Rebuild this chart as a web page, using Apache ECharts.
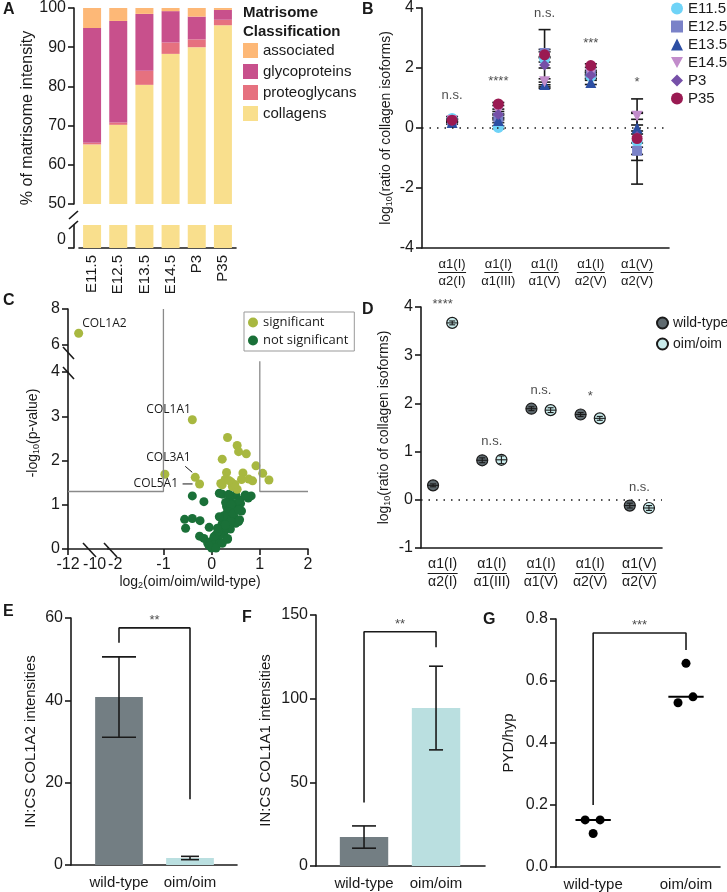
<!DOCTYPE html>
<html><head><meta charset="utf-8">
<script src="https://cdn.jsdelivr.net/npm/echarts@6/dist/echarts.min.js"></script>
<style>html,body{margin:0;padding:0;background:#fff}#c{width:727px;height:892px}</style>
</head><body><div id="c"></div><script>
// ================= DATA =================
// Panel A
const stageCats = ['E11.5','E12.5','E13.5','E14.5','P3','P35'];
const collagens     = [65.2, 70.2, 80.4, 88.3, 90.0, 95.6];
const proteoglycans = [0.4, 0.6, 3.6, 2.9, 2.0, 1.4];
const glycoproteins = [29.3, 25.9, 14.5, 8.0, 5.8, 2.5];
const associated    = [5.1, 3.3, 1.5, 0.8, 2.2, 0.5];
const A_yTicks = [50, 100, 10];

// Panel B
const ratioNum = ['α1(I)','α1(I)','α1(I)','α1(I)','α1(V)'];
const ratioDen = ['α2(I)','α1(III)','α1(V)','α2(V)','α2(V)'];
const B_E11_5 = [0.32, 0.02, 2.30, 1.72, -0.45];
const B_E11_5_sd = [0.06, 0.05, 0.98, 0.08, 1.42];
const B_E12_5 = [0.25, 0.35, 2.50, 1.85, -0.76];
const B_E12_5_sd = [0.05, 0.08, 0.12, 0.07, 0.12];
const B_E13_5 = [0.18, 0.25, 1.45, 1.52, 0.00];
const B_E13_5_sd = [0.05, 0.07, 0.08, 0.07, 0.10];
const B_E14_5 = [0.25, 0.55, 1.54, 1.80, 0.39];
const B_E14_5_sd = [0.04, 0.08, 0.10, 0.06, 0.10];
const B_P3 = [0.24, 0.45, 2.10, 1.76, -0.28];
const B_P3_sd = [0.05, 0.10, 0.10, 0.10, 0.80];
const B_P35 = [0.26, 0.80, 2.44, 2.08, -0.35];
const B_P35_sd = [0.05, 0.05, 0.10, 0.06, 0.15];
const B_sig = ['n.s.','****','n.s.','***','*'];

// Panel C (volcano)
const C_sig = [[-0.40,2.92],[-0.97,1.69],[-0.34,1.62],[-0.25,1.47],[0.33,2.52],[0.53,2.34],[0.56,2.20],[0.72,2.15],
  [0.22,2.03],[0.92,1.88],[0.31,1.73],[0.65,1.72],[1.06,1.71],[1.19,1.56],[0.28,1.57],[0.41,1.51],[0.22,1.45],
  [0.43,1.41],[0.62,1.57],[0.77,1.58],[0.85,1.54],[0.53,1.35],[0.19,1.48],[0.48,1.46],[0.36,1.55]];
const C_sigNames = ['COL1A1','','COL3A1','COL5A1'];
const C_col1a2 = [-11.2, 6.65];
const C_ns = [[-0.40,1.20],[-0.16,1.07],[-0.56,0.67],[-0.40,0.69],[-0.54,0.47],[-0.24,0.64],[-0.25,0.29],[-0.16,0.24],
  [-0.05,0.49],[-0.08,0.13],[0.00,0.02],[0.05,0.13],[0.12,0.22],[0.16,0.35],[0.19,0.47],[0.22,0.58],[0.33,0.22],
  [0.28,0.69],[0.36,0.81],[0.43,0.92],[0.31,0.96],[0.22,1.24],[0.36,1.12],[0.46,1.03],[0.50,1.22],[0.60,1.03],
  [0.62,0.86],[0.46,0.73],[0.56,0.62],[0.69,1.20],[0.76,1.15],[0.82,1.20],[0.50,0.58],[0.39,0.45],[0.26,0.39],
  [0.09,0.13],[0.31,0.66],[0.39,0.62],[0.28,0.54],[0.19,0.32],[0.09,0.32],[-0.01,0.17],[-0.05,0.07],[0.09,0.02],
  [0.05,0.28],[0.22,0.13],[0.53,0.88],[0.36,1.24],[0.29,1.05],[0.40,1.00],[0.33,0.85],[0.14,0.40],[0.25,0.75],
  [0.45,0.80],[0.58,1.10],[0.16,1.26],[0.70,1.22],[0.12,0.47],[0.33,0.24],[0.16,0.73],[0.56,0.88],[0.58,0.66]];
const C_fcCut = [-1, 1];
const C_pCut = 1.3;
const C_rightCutTop = 5.1;

// Panel D
const D_wt = [0.30, 0.82, 1.89, 1.77, -0.12];
const D_wt_sd = [0.03, 0.05, 0.04, 0.04, 0.05];
const D_oim = [3.67, 0.83, 1.86, 1.69, -0.17];
const D_oim_sd = [0.04, 0.08, 0.05, 0.04, 0.05];
const D_sig = ['****','n.s.','n.s.','*','n.s.'];

// Panels E, F, G
const groups = ['wild-type','oim/oim'];
const E_mean = [40.8, 1.7];
const E_sd = [9.75, 0.4];
const E_bracket = [54, 57.6, 16];
const F_mean = [17.3, 94.4];
const F_sd = [6.65, 25.0];
const F_bracket = [38, 140, 130.7];
const G_wt = [0.152, 0.152, 0.108];
const G_oim = [0.657, 0.530, 0.549];
const G_jitter = [-0.086, 0.075, 0];
const G_oimJitter = [0, -0.086, 0.075];
const G_bracket = [0.2, 0.755, 0.70];
const sigEF = ['**','**','***'];

// ================= STYLE =================
const FONT = '"Liberation Sans", Arial, Helvetica, sans-serif';
const INK = '#1a1a1a';
const matColors = {associated:'#FDB877', glycoproteins:'#C8508C', proteoglycans:'#E6717F', collagens:'#F9DF8D'};
const stageStyle = [
  {name:'E11.5', v:B_E11_5, sd:B_E11_5_sd, symbol:'circle', size:11, color:'#6FD3F7'},
  {name:'E12.5', v:B_E12_5, sd:B_E12_5_sd, symbol:'rect', size:10, color:'#7A82C8'},
  {name:'E13.5', v:B_E13_5, sd:B_E13_5_sd, symbol:'triangle', size:11, color:'#2C4EA3'},
  {name:'E14.5', v:B_E14_5, sd:B_E14_5_sd, symbol:'path://M0,0 L10,0 L5,9 Z', size:11, color:'#C28CCB'},
  {name:'P3', v:B_P3, sd:B_P3_sd, symbol:'diamond', size:11, color:'#7650A8'},
  {name:'P35', v:B_P35, sd:B_P35_sd, symbol:'circle', size:11, color:'#9A1A52'}
];
const wtColor = '#737E83', oimColor = '#BADFE0';

const axLine = {show:true, onZero:false, lineStyle:{color:INK, width:1.6}};
const axTick = {show:true, length:6, lineStyle:{color:INK, width:1.6}};
const axLabel = (o) => Object.assign({color:INK, fontSize:16, fontFamily:FONT, margin:8}, o||{});
const noSplit = {show:false};

const cvs = document.createElement('canvas').getContext('2d');
function textW(t, size){ cvs.font = size + 'px ' + FONT; return cvs.measureText(t).width; }
function fracRich(size){
  const base = {fontSize:size, fontFamily:FONT, color:INK, lineHeight:size+1};
  const rich = {n:base, d:base};
  ratioNum.forEach((t,i)=>{ rich['u'+i] = {width:Math.ceil(textW(t,size)), height:1, lineHeight:3, fontSize:1, backgroundColor:INK}; });
  return rich;
}
const fracFmt = (v) => { const i = Math.round(v); return '{n|' + ratioNum[i] + '}\n{u' + i + '| }\n{d|' + ratioDen[i] + '}'; };

function errRender(capHalf, lw, meanHalf){
  return function(params, api){
    const x = api.value(0), lo = api.value(1), hi = api.value(2), m = api.value(3);
    const a = api.coord([x, lo]), b = api.coord([x, hi]);
    const st = {stroke:INK, lineWidth:lw};
    const ch = [
      {type:'line', shape:{x1:a[0], y1:a[1], x2:b[0], y2:b[1]}, style:st},
      {type:'line', shape:{x1:a[0]-capHalf, y1:a[1], x2:a[0]+capHalf, y2:a[1]}, style:st},
      {type:'line', shape:{x1:b[0]-capHalf, y1:b[1], x2:b[0]+capHalf, y2:b[1]}, style:st}
    ];
    if (meanHalf) { const c = api.coord([x, m]); ch.push({type:'line', shape:{x1:c[0]-meanHalf, y1:c[1], x2:c[0]+meanHalf, y2:c[1]}, style:st}); }
    return {type:'group', children:ch};
  };
}
function barRender(halfW, colors){
  return function(params, api){
    const x = api.value(0), v = api.value(1);
    const a = api.coord([x - halfW, 0]), b = api.coord([x + halfW, v]);
    return {type:'rect', shape:{x:a[0], y:b[1], width:b[0]-a[0], height:a[1]-b[1]}, style:{fill:colors[params.dataIndex]}};
  };
}
const median = (arr) => { const s = arr.slice().sort((p,q)=>p-q); return s[Math.floor(s.length/2)]; };

// ================= OPTION =================
const grids = [
  {left:79, top:4, width:157, height:200},    // 0 A upper
  {left:79, top:225, width:157, height:23},   // 1 A lower
  {left:422, top:4, width:247, height:244},   // 2 B
  {left:108, top:372, width:200, height:177}, // 3 C main
  {left:68, top:372, width:40, height:177},   // 4 C lower-left
  {left:68, top:309, width:40, height:63},    // 5 C upper-left
  {left:108, top:309, width:200, height:63},  // 6 C upper-right
  {left:421, top:307, width:241, height:241}, // 7 D
  {left:71, top:618, width:166, height:247},  // 8 E
  {left:316, top:615, width:169, height:251}, // 9 F
  {left:556, top:619, width:164, height:248}  // 10 G
];

const subRich = (size) => ({s:{fontSize:Math.round(size*0.65), fontFamily:FONT, color:INK, verticalAlign:'bottom', lineHeight:size+2}});

const xAxes = [
  {gridIndex:0, type:'category', data:stageCats, show:false},
  {gridIndex:1, type:'category', data:stageCats, axisLine:axLine, axisTick:{show:false},
    axisLabel:axLabel({rotate:90, fontSize:15, margin:7})},
  {gridIndex:2, type:'value', min:-0.65, max:4.69, splitLine:noSplit, axisLine:axLine, axisTick:{show:false},
    axisLabel:axLabel({customValues:[0,1,2,3,4], formatter:fracFmt, rich:fracRich(13), margin:9, lineHeight:14})},
  {gridIndex:3, type:'value', min:-2.15, max:2, splitLine:noSplit, axisLine:axLine,
    axisTick:Object.assign({customValues:[-1,0,1,2]}, axTick), axisLabel:axLabel({customValues:[-2,-1,0,1,2]})},
  {gridIndex:4, type:'value', min:-12, max:-9.0, splitLine:noSplit, axisLine:axLine,
    axisTick:Object.assign({customValues:[-12]}, axTick), axisLabel:axLabel({customValues:[-12,-10], showMaxLabel:true})},
  {gridIndex:5, type:'value', min:-12, max:-9.0, show:false},
  {gridIndex:6, type:'value', min:-2.15, max:2, show:false},
  {gridIndex:7, type:'value', min:-0.44, max:4.46, splitLine:noSplit, axisLine:axLine, axisTick:{show:false},
    axisLabel:axLabel({customValues:[0,1,2,3,4], formatter:fracFmt, rich:fracRich(14), margin:9})},
  {gridIndex:8, type:'value', min:-0.676, max:1.662, splitLine:noSplit, axisLine:axLine, axisTick:{show:false},
    axisLabel:axLabel({customValues:[0,1], formatter:(v)=>groups[Math.round(v)], fontSize:15, margin:10})},
  {gridIndex:9, type:'value', min:-0.667, max:1.68, splitLine:noSplit, axisLine:axLine, axisTick:{show:false},
    axisLabel:axLabel({customValues:[0,1], formatter:(v)=>groups[Math.round(v)], fontSize:15, margin:10})},
  {gridIndex:10, type:'value', min:-0.40, max:1.366, splitLine:noSplit, axisLine:axLine, axisTick:{show:false},
    axisLabel:axLabel({customValues:[0,1], formatter:(v)=>groups[Math.round(v)], fontSize:15, margin:10})}
];

const yAxes = [
  {gridIndex:0, type:'value', min:A_yTicks[0], max:A_yTicks[1], interval:A_yTicks[2], offset:5, splitLine:noSplit,
    axisLine:axLine, axisTick:axTick, axisLabel:axLabel()},
  {gridIndex:1, type:'value', min:0, max:5, offset:5, splitLine:noSplit, axisLine:axLine,
    axisTick:Object.assign({customValues:[0]}, axTick), axisLabel:axLabel({customValues:[0], verticalAlign:'bottom'})},
  {gridIndex:2, type:'value', min:-4, max:4, interval:2, splitLine:noSplit, axisLine:axLine, axisTick:axTick, axisLabel:axLabel(),
    name:'log{s|10}(ratio of collagen isoforms)', nameLocation:'middle', nameGap:28,
    nameTextStyle:{fontSize:14, fontFamily:FONT, color:INK, rich:subRich(14)}},
  {gridIndex:3, type:'value', min:0, max:4, show:false},
  {gridIndex:4, type:'value', min:0, max:4, interval:1, splitLine:noSplit, axisLine:axLine, axisTick:axTick, axisLabel:axLabel()},
  {gridIndex:5, type:'value', min:4.5, max:8, splitLine:noSplit, axisLine:axLine,
    axisTick:Object.assign({customValues:[6,8]}, axTick), axisLabel:axLabel({customValues:[6,8]})},
  {gridIndex:6, type:'value', min:4.5, max:8, show:false},
  {gridIndex:7, type:'value', min:-1, max:4, interval:1, splitLine:noSplit, axisLine:axLine, axisTick:axTick, axisLabel:axLabel(),
    name:'log{s|10}(ratio of collagen isoforms)', nameLocation:'middle', nameGap:29,
    nameTextStyle:{fontSize:14, fontFamily:FONT, color:INK, rich:subRich(14)}},
  {gridIndex:8, type:'value', min:0, max:60, interval:20, splitLine:noSplit, axisLine:axLine, axisTick:axTick, axisLabel:axLabel(),
    name:'IN:CS COL1A2 intensities', nameLocation:'middle', nameGap:33, nameTextStyle:{fontSize:15, fontFamily:FONT, color:INK}},
  {gridIndex:9, type:'value', min:0, max:150, interval:50, splitLine:noSplit, axisLine:axLine, axisTick:axTick, axisLabel:axLabel(),
    name:'IN:CS COL1A1 intensities', nameLocation:'middle', nameGap:43, nameTextStyle:{fontSize:15, fontFamily:FONT, color:INK}},
  {gridIndex:10, type:'value', min:0, max:0.8, interval:0.2, splitLine:noSplit, axisLine:axLine, axisTick:axTick,
    axisLabel:axLabel({formatter:(v)=>v.toFixed(1)}),
    name:'PYD/hyp', nameLocation:'middle', nameGap:40, nameTextStyle:{fontSize:15, fontFamily:FONT, color:INK}}
];

const series = [];
// ---- A ----
const aStack = [['collagens',collagens],['proteoglycans',proteoglycans],['glycoproteins',glycoproteins],['associated',associated]];
aStack.forEach(([n,arr])=>{
  series.push({type:'bar', name:n, xAxisIndex:0, yAxisIndex:0, stack:'A', barWidth:18, data:arr, itemStyle:{color:matColors[n]}});
});
series.push({type:'bar', name:'collagens', xAxisIndex:1, yAxisIndex:1, barWidth:18, data:collagens, itemStyle:{color:matColors.collagens}});

// ---- B ----
series.push({type:'line', xAxisIndex:2, yAxisIndex:2, data:[], symbol:'none', silent:true,
  markLine:{silent:true, symbol:'none', label:{show:false}, lineStyle:{color:INK, type:[1.5,6], width:1.6}, data:[{yAxis:0}]}});
stageStyle.forEach((s)=>{
  series.push({type:'custom', xAxisIndex:2, yAxisIndex:2, z:2, renderItem:errRender(6, 1.6, 0),
    data:s.v.map((v,i)=>[i, v - s.sd[i], v + s.sd[i], v])});
});
stageStyle.forEach((s)=>{
  series.push({type:'scatter', name:s.name, xAxisIndex:2, yAxisIndex:2, z:3, symbol:s.symbol, symbolSize:s.size,
    itemStyle:{color:s.color, opacity:1}, data:s.v.map((v,i)=>[i,v])});
});
series.push({type:'scatter', xAxisIndex:2, yAxisIndex:2, symbolSize:0, z:4, clip:false,
  data:B_sig.map((t,i)=>{
    let top = -99; stageStyle.forEach(s=>{ top = Math.max(top, s.v[i]+s.sd[i], s.v[i]+0.2); });
    return {value:[i, top + 0.55], name:t};
  }),
  label:{show:true, position:'inside', formatter:'{b}', fontSize:13, fontFamily:FONT, color:INK}});

// ---- C ----
const lineSty = {color:'#8a8a8a', width:1.3};
series.push({type:'line', xAxisIndex:3, yAxisIndex:3, symbol:'none', lineStyle:lineSty, silent:true,
  data:[[-2.15,C_pCut],[C_fcCut[0],C_pCut],[C_fcCut[0],4]]});
series.push({type:'line', xAxisIndex:3, yAxisIndex:3, symbol:'none', lineStyle:lineSty, silent:true,
  data:[[C_fcCut[1],4],[C_fcCut[1],C_pCut],[2,C_pCut]]});
series.push({type:'line', xAxisIndex:4, yAxisIndex:4, symbol:'none', lineStyle:lineSty, silent:true,
  data:[[-12,C_pCut],[-9.0,C_pCut]]});
series.push({type:'line', xAxisIndex:6, yAxisIndex:6, symbol:'none', lineStyle:lineSty, silent:true,
  data:[[C_fcCut[0],4.5],[C_fcCut[0],8]]});
series.push({type:'line', xAxisIndex:6, yAxisIndex:6, symbol:'none', lineStyle:lineSty, silent:true,
  data:[[C_fcCut[1],4.5],[C_fcCut[1],C_rightCutTop]]});
const cLabel = (pos, align) => ({show:true, formatter:'{b}', position:pos, align:align, verticalAlign:'middle',
  fontSize:12, fontFamily:'"Open Sans", ' + FONT, color:INK});
const cLabelPos = {COL1A1:[[3,-6],'right'], COL3A1:[[0,-15],'right'], COL5A1:[[-17,4.5],'right']};
series.push({type:'scatter', name:'not significant', xAxisIndex:3, yAxisIndex:3, symbolSize:9, itemStyle:{color:'#1A7038', opacity:1},
  data:C_ns});
series.push({type:'scatter', name:'significant', xAxisIndex:3, yAxisIndex:3, symbolSize:9, itemStyle:{color:'#A8B840', opacity:1},
  data:C_sig.map((p,i)=>{
    const n = C_sigNames[i];
    if (n) return {value:p, name:n, label:cLabel(cLabelPos[n][0], cLabelPos[n][1])};
    return {value:p};
  })});
series.push({type:'scatter', name:'significant', xAxisIndex:5, yAxisIndex:5, symbolSize:9, itemStyle:{color:'#A8B840', opacity:1},
  data:[{value:C_col1a2, name:'COL1A2', label:cLabel([8,-5],'left')}]});

// ---- D ----
const dOff = 0.195;
series.push({type:'line', xAxisIndex:7, yAxisIndex:7, data:[], symbol:'none', silent:true,
  markLine:{silent:true, symbol:'none', label:{show:false}, lineStyle:{color:INK, type:[1.5,6], width:1.6}, data:[{yAxis:0}]}});
series.push({type:'scatter', name:'wild-type', xAxisIndex:7, yAxisIndex:7, symbolSize:11, z:2,
  itemStyle:{color:'#5E696E', borderColor:INK, borderWidth:1.2, opacity:1}, data:D_wt.map((v,i)=>[i-dOff, v])});
series.push({type:'scatter', name:'oim/oim', xAxisIndex:7, yAxisIndex:7, symbolSize:11, z:2,
  itemStyle:{color:'#C9ECEC', borderColor:INK, borderWidth:1.2, opacity:1}, data:D_oim.map((v,i)=>[i+dOff, v])});
series.push({type:'custom', xAxisIndex:7, yAxisIndex:7, z:3, renderItem:errRender(3, 1.1, 5.5),
  data:D_wt.map((v,i)=>[i-dOff, v-D_wt_sd[i], v+D_wt_sd[i], v]).concat(D_oim.map((v,i)=>[i+dOff, v-D_oim_sd[i], v+D_oim_sd[i], v]))});
series.push({type:'scatter', xAxisIndex:7, yAxisIndex:7, symbolSize:0, z:4, clip:false,
  data:D_sig.map((t,i)=>({value:[i, Math.max(D_wt[i], D_oim[i]) + 0.38], name:t})),
  label:{show:true, position:'inside', formatter:'{b}', fontSize:13, fontFamily:FONT, color:INK}});

// ---- E / F ----
function barPanel(ax, mean, sd, bracket, sig, caps){
  series.push({type:'custom', xAxisIndex:ax, yAxisIndex:ax, z:2, renderItem:barRender(0.336, [wtColor, oimColor]),
    data:mean.map((v,i)=>[i, v])});
  mean.forEach((v,i)=>{
    series.push({type:'custom', xAxisIndex:ax, yAxisIndex:ax, z:3, renderItem:errRender(caps[i], 1.6, 0),
      data:[[i, v - sd[i], v + sd[i], v]]});
  });
  series.push({type:'line', xAxisIndex:ax, yAxisIndex:ax, symbol:'none', silent:true, lineStyle:{color:INK, width:1.6},
    data:[[0,bracket[0]],[0,bracket[1]],[1,bracket[1]],[1,bracket[2]]]});
  series.push({type:'scatter', xAxisIndex:ax, yAxisIndex:ax, symbolSize:0, clip:false,
    data:[{value:[0.5, bracket[1]], name:sig}],
    label:{show:true, position:'top', distance:1, formatter:'{b}', fontSize:13, fontFamily:FONT, color:INK}});
}
barPanel(8, E_mean, E_sd, E_bracket, sigEF[0], [17, 9]);
barPanel(9, F_mean, F_sd, F_bracket, sigEF[1], [12, 7]);

// ---- G ----
series.push({type:'scatter', xAxisIndex:10, yAxisIndex:10, symbolSize:9, itemStyle:{color:'#000', opacity:1},
  data:G_wt.map((v,i)=>[0 + G_jitter[i], v]).concat(G_oim.map((v,i)=>[1 + G_oimJitter[i], v]))});
series.push({type:'custom', xAxisIndex:10, yAxisIndex:10, z:3,
  renderItem:function(params, api){
    const x = api.value(0), m = api.value(1);
    const a = api.coord([x-0.19, m]), b = api.coord([x+0.19, m]);
    return {type:'line', shape:{x1:a[0], y1:a[1], x2:b[0], y2:b[1]}, style:{stroke:'#000', lineWidth:2}};
  },
  data:[[0, median(G_wt)], [1, median(G_oim)]]});
series.push({type:'line', xAxisIndex:10, yAxisIndex:10, symbol:'none', silent:true, lineStyle:{color:INK, width:1.6},
  data:[[0,G_bracket[0]],[0,G_bracket[1]],[1,G_bracket[1]],[1,G_bracket[2]]]});
series.push({type:'scatter', xAxisIndex:10, yAxisIndex:10, symbolSize:0, clip:false,
  data:[{value:[0.5, G_bracket[1]], name:sigEF[2]}],
  label:{show:true, position:'top', distance:1, formatter:'{b}', fontSize:13, fontFamily:FONT, color:INK}});

// ---- legends ----
const legends = [
  {data:['associated','glycoproteins','proteoglycans','collagens'], orient:'vertical', left:243, top:43, padding:0,
    itemWidth:15, itemHeight:15, itemGap:6, icon:'rect', selectedMode:false,
    textStyle:{fontSize:15, fontFamily:FONT, color:INK}},
  {data:stageStyle.map(s=>s.name), orient:'vertical', left:671, top:1, padding:0, itemWidth:12, itemHeight:12, itemGap:3,
    selectedMode:false, textStyle:{fontSize:15, fontFamily:FONT, color:INK, lineHeight:13}},
  {data:['significant','not significant'], orient:'vertical', left:244, top:312, padding:[4,6,4,4], itemWidth:10, itemHeight:10,
    itemGap:5, icon:'circle', selectedMode:false, borderColor:'#999', borderWidth:1,
    textStyle:{fontSize:13, fontFamily:'"Open Sans", ' + FONT, color:INK, lineHeight:12}},
  {data:['wild-type','oim/oim'], orient:'vertical', left:656, top:316, padding:0, itemWidth:11, itemHeight:11, itemGap:7,
    icon:'circle', selectedMode:false, textStyle:{fontSize:14, fontFamily:FONT, color:INK}}
];

// ---- graphics (panel letters, titles, break marks) ----
const letter = (t, x, y) => ({type:'text', left:x, top:y, style:{text:t, fontSize:16, fontWeight:'bold', fontFamily:FONT, fill:INK}});
const slash = (x1,y1,x2,y2) => ({type:'line', shape:{x1,y1,x2,y2}, style:{stroke:INK, lineWidth:1.6}});
const graphic = [
  letter('A', 3, 2), letter('B', 362, 2), letter('C', 3, 293), letter('D', 362, 302),
  letter('E', 3, 604), letter('F', 242, 610), letter('G', 483, 612),
  {type:'text', x:243, y:3, style:{text:'Matrisome\nClassification', fontSize:15, fontWeight:'bold', fontFamily:FONT, fill:INK, lineHeight:19}},
  {type:'text', x:28, y:118, rotation:Math.PI/2, style:{text:'% of matrisome intensity', fontSize:16, fontFamily:FONT, fill:INK, align:'center', verticalAlign:'middle'}},
  {type:'text', x:33, y:433, rotation:Math.PI/2, style:{text:'-log{s|10}(p-value)', fontSize:14, fontFamily:FONT, fill:INK, align:'center', verticalAlign:'middle', rich:subRich(14)}},
  {type:'text', x:190, y:582, style:{text:'log{s|2}(oim/oim/wild-type)', fontSize:14, fontFamily:FONT, fill:INK, align:'center', verticalAlign:'middle', rich:subRich(14)}},
  // A y-axis break
  slash(69,219,78,211), slash(69,229,78,221),
  // C y-axis break
  slash(63,347,74,359), slash(63,367,74,379),
  // C x-axis break
  slash(83,543,96,557), slash(104,543,117,557)
];

const option = {
  animation:false, backgroundColor:'#fff',
  grid:grids, xAxis:xAxes, yAxis:yAxes, series:series, legend:legends, graphic:graphic
};
const chart = echarts.init(document.getElementById('c'));
chart.setOption(option);

// leader lines for labelled genes (anchored to data points via the chart's own scales)
const p3 = chart.convertToPixel({xAxisIndex:3, yAxisIndex:3}, C_sig[2]);
const p5 = chart.convertToPixel({xAxisIndex:3, yAxisIndex:3}, C_sig[3]);
chart.setOption({graphic: graphic.concat([
  {type:'line', shape:{x1:p3[0]-10, y1:p3[1]-11, x2:p3[0]-3, y2:p3[1]-5}, style:{stroke:INK, lineWidth:1}},
  {type:'line', shape:{x1:p5[0]-17, y1:p5[1], x2:p5[0]-7, y2:p5[1]}, style:{stroke:INK, lineWidth:1}}
])});
</script></body></html>
